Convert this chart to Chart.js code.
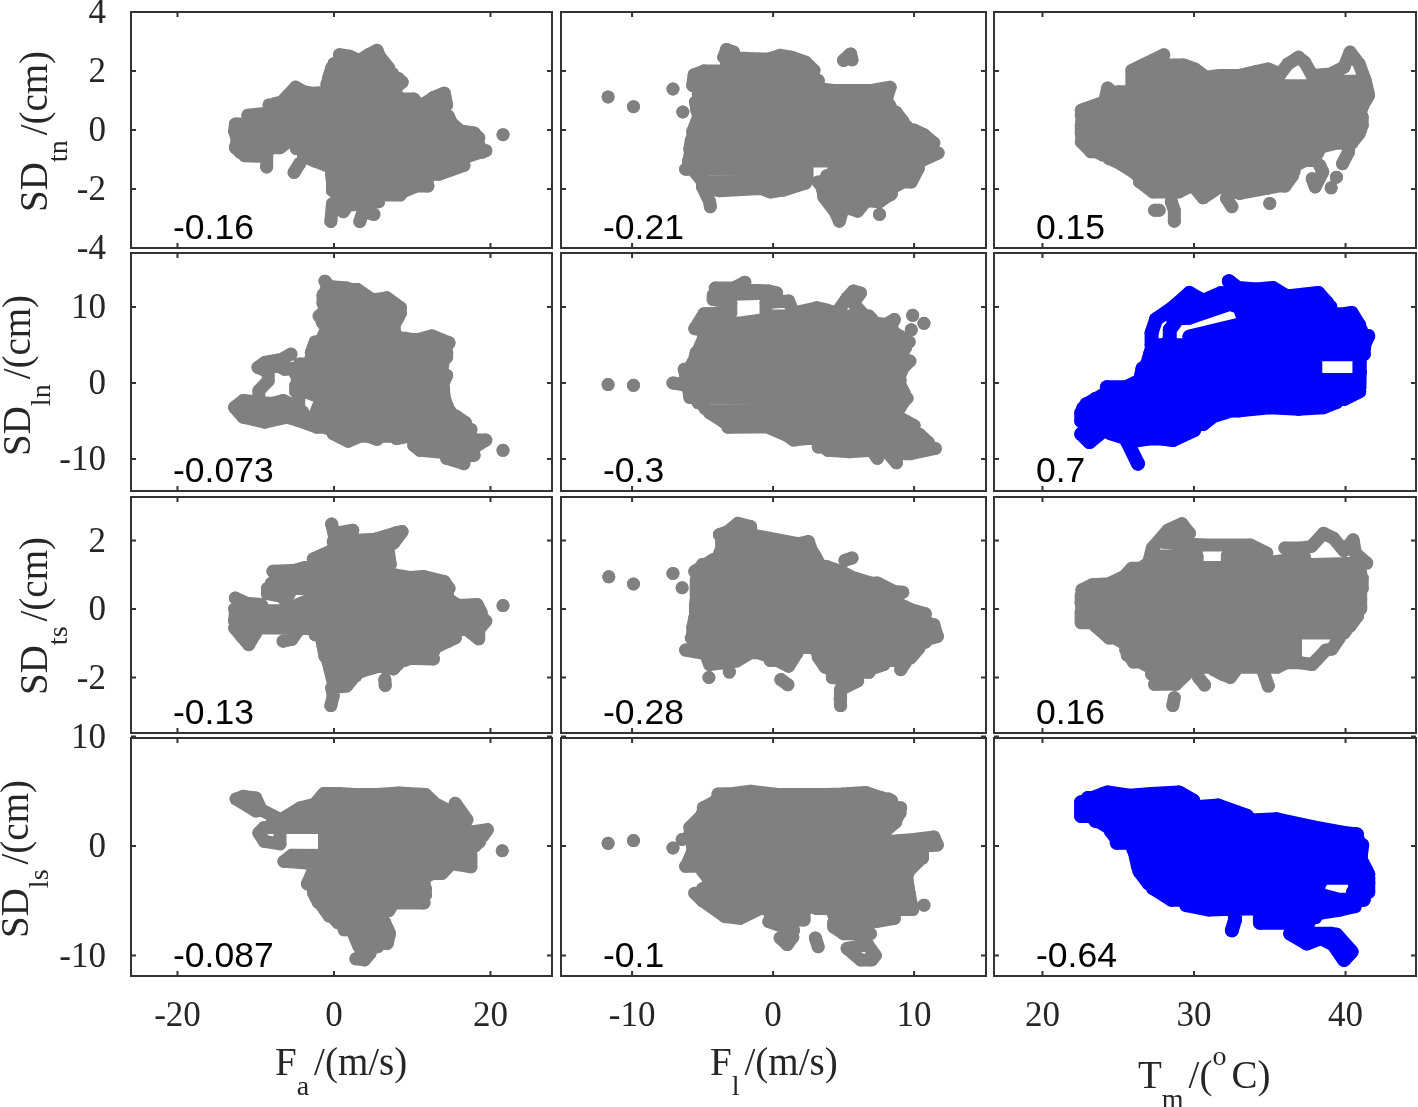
<!DOCTYPE html>
<html><head><meta charset="utf-8">
<style>html,body{margin:0;padding:0;background:#fff;overflow:hidden;width:1418px;height:1107px}canvas{position:absolute;display:block}</style>
<script src="https://cdn.jsdelivr.net/npm/chart.js@4"></script>
</head><body>
<script>
const G=[null,null]; // break in a connected trace
const fa_tn=[[0.7,2.55],[2,2.5],[3.2,2.35],[4.4,2.55],[5.5,2.7],[5.8,2.5],[7,2.1],[-0.3,2.1],[-0.7,1.75],[8.2,1.75],[8.7,1.62],[7.6,1.4],[-2.9,1.25],[-3.9,1.3],[-4.9,1.45],[-6.3,1.05],[10.2,1.05],[11,0.8],[12.7,1.1],[14.1,1.25],[14.4,0.85],[-8.3,0.85],[-7.5,0.6],[-11,0.5],[14.6,0.47],[15.1,0.2],[-12.6,0.2],[-12.7,-0.05],[16.6,-0.05],[17.9,-0.1],[18.5,-0.27],[-4.1,-0.35],[-4.8,-0.63],[19.4,-0.7],[17,-0.9],[-3.9,-0.9],[-0.5,-1.25],[16.6,-1.2],[13.4,-1.5],[-0.3,-1.5],[-0.2,-1.75],[11.9,-1.75],[8.7,-2.1],[-0.2,-2.05],[1.6,-2.35],[5.7,-2.43],[1.8,-2.55],[1.2,-2.77],[-0.2,-2.5],[-0.4,-3.1],G,[-4.4,-1.14],[-5.1,-1.44],G,[3.3,-3.1],[3.7,-2.77],[5.1,-2.86],G,[-12.4,-0.35],[-5.6,-0.35],[-6.9,-0.6],[-12.6,-0.6],[-11.4,-0.87],[-8.6,-0.9],[-8.6,-1.25],G,[21.6,-0.16],
G,[0,2.25],[5.5,2.25],[7.5,1.9],[-0.5,1.9],[-0.9,1.55],[7.8,1.55],[8,1.2],[-3,1.2],[-7.5,0.9],[10.5,0.9],[11,0.65],[-8,0.65],[-11,0.35],[14.5,0.35],[16,0],[-12.5,0],G,[-4.3,-0.5],[18.5,-0.5],[19,-0.75],[-4,-0.75],[-2.5,-1.05],[16.5,-1.05],[14,-1.35],[-0.3,-1.35],[-0.2,-1.6],[12,-1.9],[-0.2,-1.9],[0.5,-2.2],[8.5,-2.2],G,[-12.5,-0.2],[-6,-0.2],[-6.8,-0.5],[-12.5,-0.5],[-12,-0.75],[-8.5,-0.75]];
const fl_tn=[[-2.8,2.64],[-3.3,2.73],[-3.5,2.47],[-1,2.41],[-0.3,2.41],[0.5,2.53],[1.3,2.47],[2.3,2.3],[2.9,2.02],[-4.9,2],[-5.6,1.87],[-5.7,1.51],[3.2,1.68],[3.2,1.4],[4.3,1.34],[6,1.34],[7,1.34],[8.3,1.45],[8,1],[-5.5,0.95],[-5.4,0.65],[8.7,0.61],[9.2,0.3],[-5.4,0.3],[-5.7,-0.05],[10,0],[10.7,-0.16],[11.4,-0.44],[-5.8,-0.35],[-5.9,-0.65],[11.7,-0.78],[10.5,-1.05],[-6,-1.05],G,[-6.2,-1.33],[2.4,-1.35],[2.4,-1.6],[-5,-1.6],[-5,-1.93],[2.3,-1.8],[0.7,-2.04],[-0.2,-2.1],[-0.9,-1.98],[-3.8,-2.06],[-5,-1.93],[-4.5,-2.43],[-4.45,-2.6],G,[4.3,-1.35],[10.3,-1.3],[9.8,-1.76],[3.2,-1.76],[3.6,-2],[8.4,-2.15],[7.55,-2.43],[3.6,-2.27],[4.4,-2.77],[4.7,-3.09],[5,-2.6],[6,-2.75],[6.6,-2.4],G,[7.55,-2.86],G,[5,2.36],[5.5,2.58],[5.6,2.38],G,[-11.7,1.12],G,[-9.9,0.79],G,[-7.1,1.39],G,[-6.4,0.61],
G,[-3.3,2.2],[2.3,2.2],[2.8,2],[-4.9,2],[-5.3,1.7],[3,1.7],[3.2,1.45],[-5.3,1.45],[-5.3,1.2],[7.8,1.2],[8.3,0.8],[-5.4,0.8],[-5.3,0.45],[8.8,0.45],[9.5,0.1],[-5.5,0.1],[-5.7,-0.2],[10.7,-0.2],[11.2,-0.5],[-5.8,-0.5],[-5.9,-0.9],[10.8,-0.9],G,[-6,-1.2],[2.4,-1.2],[2.4,-1.45],[-5.5,-1.45],[-5,-1.75],[2.3,-1.75],G,[3.8,-1.55],[10,-1.55],[8.3,-2],[3.5,-2],[3.6,-2.2],[8.3,-2.2],[6.5,-2.45],[4.3,-2.45]];
const tm_tn=[[22.56,0.67],[24.1,0.95],[24.3,1.42],[24.9,1.17],[25.9,1.3],[25.9,2.02],[28,2.55],[27,2.15],[29.4,2.19],[30.05,2.07],[30.8,1.79],[31.7,1.85],[33,1.85],[34.1,1.98],[34.9,2.07],[35.7,1.9],[36.2,2.24],[36.9,2.47],[37.3,2.3],[37.8,1.85],[39,1.9],[39.9,2.13],[40.3,2.64],[40.9,2.24],[41.3,1.68],[41.5,1.23],[41.3,1.5],[25.9,1.5],[25.9,1.15],[41.5,1.15],[41.1,0.8],[24,0.8],[22.56,0.5],[41.1,0.45],[41.1,0.16],[22.56,0.16],[22.56,-0.12],[40.9,-0.12],[40.4,-0.45],[22.56,-0.4],[23.2,-0.74],[38.2,-0.74],[37.9,-1.03],[24.4,-0.97],[25,-1.1],[26,-1.42],[36.6,-1.4],[36,-1.75],[26.4,-1.75],[27.3,-2.1],[29,-2.1],[29.9,-1.87],[30.6,-2.3],[31.7,-1.93],[33,-2.15],[34.8,-1.98],[35.9,-1.87],G,[40.2,-0.5],[40.2,-0.74],[39.8,-1.14],G,[37.8,-1.65],[38,-1.93],[38.5,-1.42],[38.3,-1.2],G,[39.4,-1.6],G,[39.05,-1.96],G,[27.4,-2.72],[27.7,-2.72],G,[28.5,-2.43],[28.7,-2.72],[28.7,-3.09],G,[32.15,-2.32],[32.5,-2.6],G,[35,-2.49],
G,[27.2,2.2],[29.3,2.2],[30,1.85],[26,1.85],[26,1.65],[35.6,1.65],G,[38,1.65],[41.2,1.65],[41.4,1.3],[25,1.3],[24.5,1],[41.3,1],[41,0.65],[23,0.65],[22.6,0.3],[41,0.3],[41,0],[22.6,0],[22.6,-0.3],[40.5,-0.3],[38.2,-0.6],[23,-0.6],[24,-0.85],[38,-0.85],[36.7,-1.2],[25.5,-1.2],[26.3,-1.55],[36.5,-1.55],[36,-1.9],[27,-1.9]];
const fa_ln=[[-1.15,13.4],[-0.6,12.7],[1.6,12.5],[3.5,11.85],[-1.4,11.6],[-1.4,10.5],[4.6,10.8],[5.3,11],[6.75,11.2],[8.5,9.9],[-1,9.6],[-1.9,8.8],[8.2,8.6],[7.6,7.5],[-1.2,7.6],[-0.9,6.6],[7.8,6.4],[9.3,5.3],[12.5,6.2],[14.7,5.3],[-2.4,5.4],[-2.9,4],[14.4,4],[14.4,3.4],[13.4,2.5],[-4.4,2.5],[-4.9,1.2],[14.4,1],[13.8,-0.35],[-4.9,-0.35],[-4.9,-1.1],[14,-1.1],[14.2,-2.5],[-1.5,-2.5],[-2,-3.7],[14.8,-3.7],[15.6,-4.7],[-4.6,-4.9],[-2.2,-5.8],[16.8,-5.6],[17.2,-6.45],[-0.1,-6.65],[1.8,-7.65],[3.8,-6.8],[5.5,-7.4],[6.7,-6.5],[8,-7.3],[9.5,-7],[18.3,-7.5],[19.4,-7.5],[17.9,-8.5],[10.2,-8.2],[11,-8.85],[17.9,-9.5],[14.4,-9.9],[16.6,-10.6],G,[-5.5,3.8],[-6.7,3.1],[-8.85,2.7],[-9.7,2.05],[-7,2.2],[-6.3,1.8],[-4.4,2],G,[-9.7,2.05],[-8.4,1.5],[-8.4,0.3],[-9.6,-1],[-9.6,-1.9],G,[-4.5,-1.1],[-4.5,-3.2],[-6.5,-2.3],[-8,-2.7],[-11.6,-2.3],[-12.7,-3.2],[-11.6,-4.5],[-8.85,-5.15],[-6,-4.5],[-4.6,-4.9],[-4,-3.8],[-11,-3.8],G,[21.6,-8.85],
G,[-1,12.3],[3,12.3],[4.8,11],[-1.3,11],[-1.2,10.2],[8,10.2],[8.5,9.2],[-1.5,9.2],[-1.5,8],[7.7,8],[7.7,7],[-1,7],[-1.5,5.9],[9,5.9],[14.5,5],[-2.5,5],[-3,3],[14,3],[13.8,1.8],[-4.2,1.8],[-4.7,0.5],[13.8,0.5],[14,-0.7],[-4.7,-0.7],[-2,-1.8],[14,-1.8],[14.5,-3.1],[-2,-3.1],[-2.5,-4.3],[15.5,-4.3],[16.8,-5.2],[-3,-5.2],[-0.5,-6.1],[17.5,-6.1],[12,-7],[1,-7]];
const fl_ln=[[-4.1,12.5],[-2.8,12.5],[-2,13.25],[-2.3,12.3],[-0.3,12.1],[0.25,11.85],[-4.2,11.6],[-4.25,11],[-3,10.5],[-3,9.2],[-4.9,9.1],[-5.55,7.15],[-4.9,7.9],[-0.5,7.9],[-0.5,10.6],[1.1,10.8],[1.45,9.2],[3.1,9.9],[3.6,9.7],[4.5,9.2],[5.25,11.2],[5.7,12.1],[6.2,11.85],[5.7,10.5],[6.3,9.2],[7.15,7.9],[8,7.7],[8.6,8.35],[8.2,6.8],[-5,6.6],[-4.7,5.5],[9.65,5.4],[8.95,6.2],[9.05,4],[-5.45,4],[-5.6,2.9],[9.7,2.9],[9.05,1.7],[-6.3,1.8],[-6.1,0.4],[9,0.4],[8.95,-0.8],[-6,-0.8],[-5.9,-1.9],[9.5,-2],[8.8,-3.3],[-4.85,-3.3],[-3.8,-4.6],[9,-4.6],[10,-5.6],[-3.2,-5.8],[-0.9,-5.4],[1,-6.9],[1.45,-7.5],[2.4,-7.3],[10.35,-6.7],[11,-7.8],[3.2,-8],[3.9,-8.85],[5.4,-9.05],[7,-8.85],[11.5,-8.6],[9.75,-9.3],[8.2,-9.3],[8.75,-10.5],G,[7.4,-9.9],[7,-8.85],G,[-7.1,0],[-6.4,-0.2],G,[-11.7,-0.2],G,[-9.9,-0.3],G,[9.9,8.9],G,[10.7,7.85],G,[9.8,7],
G,[-0.4,8.8],[6.8,8.8],[7,8.4],[-0.4,8.4],[-5,7.2],[8.3,7.2],[9,6],[-4.9,6],[-5.2,4.7],[9.4,4.7],[9,3.4],[-5.5,3.4],[-5.8,2.3],[9.3,2.3],[9,1.1],[-6.2,1.1],[-6.2,-0.2],[9,-0.2],[9.3,-1.35],[-5.8,-1.35],[-5.3,-2.6],[9.2,-2.6],[8.8,-3.9],[-4.5,-3.9],[-3.5,-5.1],[9.5,-5.1],[10,-6.2],[1,-6.2],[2,-7.2],[10.5,-7.2],[11.2,-8.4],[3.2,-8.4]];
const tm_ln=[[32.3,13.4],[32.9,12.5],[34.1,12.3],[35.2,12.5],[36.1,11.4],[38.2,11.85],[38.8,10.5],[33.3,10.6],[31.8,11.85],[30.6,10.8],[29.7,11.85],[28.6,9.9],[31.8,10.8],[33,10],[33.3,9],[39.6,9],[40.4,9.2],[40.9,7.6],[33,7.7],[29.7,6.1],[41.5,6.2],[41.2,4.9],[27.2,5],[27.2,6.6],[27.5,8.4],[28.6,9.9],[29,8.6],[28.4,7],[28.4,5.5],[27.1,3.8],[41.2,3.8],[40.95,3.5],[40.95,1.4],[40.9,-0.6],[40.9,0.4],[38,0.4],[38,2.5],[26.9,2.5],[26.6,1.3],[38,1.3],[38,0.4],[26.4,0.3],[25.5,-0.55],[24.25,-0.55],[40.9,-0.6],[39.9,-1.6],[24,-1.6],[22.9,-2.8],[39.4,-2.5],[38.5,-3.2],[36.9,-3.4],[35,-3.2],[33,-3.6],[22.56,-3.9],[22.56,-5],[31.3,-4.3],[30.6,-5.4],[23,-5.8],[22.56,-6.7],[23.1,-7.75],[24.2,-6],[30,-6.2],[28.6,-7.5],[27.9,-7.3],[27,-7.3],[25.6,-7.75],[26.3,-10.6],
G,[28.6,8.5],[29.7,8.6],[32.5,10.5],[37.5,11],[39,10],[33,10],[33.3,8.3],[40.5,8.3],[41,7],[33.6,7],[29.7,5.6],[41.3,5.6],[41.2,4.4],[27.2,4.4],[27,3.1],[38,3.1],[38,1.9],[26.6,1.9],[26.5,0.9],[38,0.9],G,[24.3,-1.1],[40.9,-1.1],[39.9,-2.1],[23.5,-2.1],[22.7,-3.3],[33,-3.3],[31,-4.5],[22.6,-4.5],[24,-5.4],[30,-5.4],[29.5,-6.6],[24.5,-6.6],[25.6,-7.3],[28,-7.3]];
const fa_ts=[[-0.3,2.48],[0,2.2],[2.4,2.3],[1.5,2],[-0.1,1.97],[5.25,2.04],[8,2.23],[8.7,2.26],[7.6,1.92],[-0.3,1.7],[-2.65,1.46],[7,1.45],[7,1.15],[-2.2,1.15],[-7.8,1.1],[-6.3,1.1],[-4.1,0.95],[8.4,0.9],[11.45,0.95],[14.1,0.8],[14.7,0.6],[-8.5,0.6],[-8.5,0.45],[-6.7,0.37],[-5.5,0.05],[-2.8,0.3],[14.5,0.3],[15.9,0.1],[18.3,0.13],[18.8,-0.1],[-12.6,-0.1],[-12.7,-0.35],[19.4,-0.35],[18.5,-0.6],[18.5,-0.87],[17,-0.6],[-12.7,-0.55],[-11.8,-0.8],[-10.9,-1.04],[-10,-0.7],G,[-6.5,-0.94],[-5.4,-0.89],[-4.5,-0.6],G,[-2.4,-0.75],[15.5,-0.84],[13.2,-1.09],[-1.4,-1.09],[-1.15,-1.38],[12.7,-1.46],[11.45,-1.38],[9.3,-1.33],[8.2,-1.6],[7.6,-1.75],[5.7,-1.67],[3.5,-1.82],[-0.5,-1.77],[-0.2,-2.05],[2.5,-2],[1.6,-2.25],[-0.3,-2.3],[-0.1,-2.54],[-0.4,-2.82],G,[-12.6,0.32],[-11.2,0.17],[-9.3,0.13],[-9,0],[-12.7,0],G,[6.5,-2.06],[6.55,-2.23],G,[21.6,0.1],
G,[-0.2,1.75],[6.9,1.75],[7.2,1.3],[-2.4,1.3],[-7,1],[7.6,1],[14,0.75],[-8,0.75],G,[-8.5,0.45],[-5.7,0.45],G,[-2.8,0.45],[14.5,0.45],[14.6,0.15],[-2.8,0.15],G,[-12,-0.05],[18,-0.05],[19,-0.25],[-12.5,-0.25],[-12.5,-0.5],[18.5,-0.5],G,[-2.4,-0.75],[15.5,-0.75],[14.5,-0.95],[-1.5,-0.95],[-1.2,-1.25],[12.7,-1.25],[9,-1.5],[-0.8,-1.5],[-0.3,-1.95],[2.8,-1.95]];
const fl_ts=[[-3.8,2.17],[-3.2,2.26],[-2.5,2.5],[-1.6,2.41],[-1.5,2.02],[-3.65,2],[-3.65,1.7],[0,1.87],[1.45,1.87],[2.5,1.97],[2.75,1.68],[3.05,1.49],[-4.25,1.44],[-5.55,1.1],[3.8,1.24],[4.8,1.1],[5.75,0.9],[-5.45,0.85],[-5.45,0.55],[7.4,0.76],[8.6,0.51],[9.2,0.49],[-5.45,0.3],[-5.5,0],[8.8,0.17],[9.8,-0.02],[10.8,-0.14],[-5.55,-0.25],[-5.7,-0.55],[11.4,-0.46],[11.65,-0.8],[10.9,-0.89],[-5.8,-0.85],[-5.3,-1.1],[10.35,-1.14],[9.75,-1.43],[3.2,-1.4],[3.7,-1.7],[7.85,-1.62],[6.8,-1.77],[4.2,-2],[6,-2.1],[4.8,-2.35],[4.75,-2.62],[4.8,-2.82],G,[-6.2,-1.2],[-5.1,-1.28],[1.7,-1.28],[1.1,-1.67],[-0.3,-1.38],[-1.4,-1.23],[-2.6,-1.52],[-4.5,-1.62],[-4.8,-1.3],G,[9.05,-1.77],[9.4,-1.55],G,[-11.65,0.94],G,[-9.9,0.73],G,[-7.1,1.04],G,[-6.45,0.62],G,[-4.55,-2],G,[-3.1,-1.84],G,[0.55,-2.06],[1.05,-2.21],G,[5.1,1.42],[5.6,1.49],
G,[-3.8,2.17],[-1.6,2.17],[2.5,1.85],[-3.6,1.85],[-3.8,1.6],[2.9,1.6],[3.3,1.3],[-5,1.3],[-5.4,1],[5,1],[7.4,0.7],[-5.45,0.7],[-5.45,0.42],[8.8,0.42],[8.8,0.15],[-5.5,0.15],[-5.5,-0.1],[10,-0.1],[11,-0.4],[-5.6,-0.4],[-5.7,-0.7],[11.4,-0.7],[10.8,-0.97],[-5.5,-0.97],G,[-5.5,-1.25],[1.7,-1.25],G,[-0.2,-1.5],[1,-1.5],G,[-4.5,-1.5],[-2.7,-1.5],G,[3.1,-1.25],[10,-1.25],[9,-1.5],[3.5,-1.5],[4.2,-1.85],[6.8,-1.85]];
const tm_ts=[[22.6,0.56],[23.3,0.71],[24.4,0.74],[25.4,0.95],[25.9,1.19],[26.9,1.19],[27.25,1.78],[28.3,2.31],[29.2,2.49],[29.7,2.21],[28,1.95],[30.6,1.87],[33.7,1.87],[34.8,1.63],[32.2,1.55],[32.2,1.2],[37.3,1.5],[36,1.78],[37.1,1.78],[37.75,1.83],[38.55,2.21],[39.2,2.07],[39.9,1.7],[40.5,2.02],[40.65,1.63],[41.4,1.34],[25.9,1.15],[25.2,0.85],[41.1,0.9],[41.1,0.6],[22.6,0.4],[22.55,0.17],[41,0.27],[41,0],[22.55,-0.1],[22.55,-0.4],[40.5,-0.35],[39.9,-0.7],[24.2,-0.7],[25.4,-1],[36.7,-1.05],[36.7,-1.35],[25.6,-1.35],[27.1,-1.7],[35.5,-1.7],[36.1,-1.57],[37,-1.57],[37.8,-1.62],[38.1,-1.48],[38.7,-1.2],[39.1,-1.17],[39.6,-0.84],G,[27.2,-1.9],[29.5,-1.9],[28.8,-2.2],[27.4,-2.2],G,[31.3,-1.77],[31.9,-1.91],[32.4,-2],[32.9,-1.7],G,[34.6,-1.86],[34.9,-2.25],G,[28.7,-2.59],[28.6,-2.82],G,[30.3,-2],[30.7,-2.22],
G,[27.2,1.55],[30.2,1.55],[30.2,1.3],[27,1.35],[26,1.05],[41,1.05],[41,0.75],[24.5,0.75],[22.7,0.5],[41,0.5],[41,0.05],[22.6,0.05],[22.6,-0.2],[40.8,-0.2],[40.3,-0.5],[23.5,-0.5],[24.4,-0.85],[36.7,-0.85],[36.7,-1.2],[25.5,-1.2],[26,-1.55],[36,-1.55]];
const fa_ls=[[-12.5,4.3],[-11.6,4.54],[-10,4.4],[-9.3,3.3],[-6.8,2.4],[-4.3,3.5],[-2.5,3.8],[-1.3,4.8],[0.7,4.8],[2.6,4.7],[5.5,4.7],[8.3,4.85],[11.7,4.7],[12.6,4.1],[-1.5,4],[-3,3.2],[15.2,3.2],[15.5,3.9],[17,2.4],[-3.5,2.4],[-1.6,1.7],[16.8,1.7],[-8.9,1.7],[-9.6,1.2],[-8.9,0.43],[-6.9,0.2],[-6.9,1.5],G,[-1.2,1.5],[15.5,1.5],[17.5,1.3],[19.6,1.5],[19,0.9],[-1.2,0.7],[-1.2,0],[15,0],[18.6,0.4],[18,0],[-1.2,-0.3],[17.4,-0.8],[17.5,-1.9],[15.8,-1.7],[15,-0.9],[-5.4,-0.85],[-6.4,-1.4],[-2.7,-1.6],[15,-1.6],[13.8,-2.5],[-2.7,-2.3],[-3.4,-3.45],[11.5,-3.3],[11.7,-4.45],[-2.6,-4.3],[-2,-5.15],[11.5,-5.2],[7.6,-5.2],[7,-5.9],[-1.2,-5.8],[-0.6,-6.4],[6.2,-6.7],[1.3,-7.65],[6.8,-7.5],[7.1,-8],[6.8,-8.9],[3.2,-8.6],[4.6,-9.8],[3.9,-10.4],[2.8,-10.3],G,[-12.5,4.3],[-10,3.2],[-9.3,3.3],G,[21.5,-0.43],
G,[-1,4.2],[12,4.2],[15.8,2.8],[-3.4,2.8],[-8,2],[16.5,2],G,[-1.2,1],[18,1],[18,0.3],[-1.2,0.3],[-1.2,-0.6],[17,-0.6],[15,-1.2],[-2.5,-1.2],[-2.6,-2],[14,-2],[11.5,-2.9],[-3,-2.9],[-2.7,-3.9],[11.7,-3.9],[11.5,-4.7],[-2.3,-4.7],[-1.5,-5.5],[7,-5.5],[6.3,-6.1],[-0.7,-6.1],[0.5,-7],[6.5,-7],[7,-8],[2.5,-8],[3.2,-9.2],[5.6,-9.2]];
const fl_ls=[[-3.9,4.75],[-2.8,4.8],[-1.6,5],[-0.9,4.9],[0.5,4.7],[2.4,4.7],[3.8,4.7],[4.9,4.75],[6.55,4.9],[7.6,4.45],[8.4,4.15],[-4.2,4],[-4.95,3.5],[9.05,3.5],[8.8,2.6],[-5.2,2.6],[-5.9,1.7],[8,1.7],[7.6,1.4],[7.7,0.8],[-5.8,0.8],[-5.7,-0.1],[8,0],[8.4,0.45],[10,0.6],[11.4,0.83],[11.65,0.1],[10,-0.1],[10.6,-0.3],[10.6,-1.1],[-5.7,-1],[-6.2,-1.85],[9.75,-1.85],[9.5,-2.7],[-4.7,-2.7],[-4.5,-3.5],[9.5,-3.5],[9.65,-4.3],[-5.55,-4.3],[-5,-5],[9.75,-5],[9.9,-5.8],[3.1,-5.7],[2.3,-5.4],[-0.9,-5.7],[-2.35,-6.6],[-3.4,-6.45],[-5,-5],[-4,-5.8],[-1,-5.7],G,[4.3,-5.8],[4.3,-6.3],[8.6,-6.6],[7.3,-6.9],[4.3,-7],[4.3,-7.4],[5,-8],[6.9,-8],[6.2,-8.4],[6.7,-9],[5.25,-9.35],[6.2,-10.4],[7,-10.4],[7.25,-10],[6.7,-9],G,[-0.3,-6],[2.2,-6],[2.2,-6.75],[1.45,-6.75],[-0.3,-6.9],[1.45,-7.7],[0.5,-8.4],[1,-9],[1.4,-8.3],G,[-11.7,0.25],G,[-9.9,0.5],G,[-7.1,-0.18],G,[-6.45,0.6],G,[10.7,-5.4],G,[3,-8.4],[3.2,-9.2],
G,[-4,4.3],[8.2,4.3],[9,3],[-5,3],[-5.3,2.2],[8.7,2.2],[7.8,1.2],[-5.9,1.2],[-5.8,0.4],[7.7,0.4],[10.5,-0.5],[-5.7,-0.5],[-6,-1.4],[10.3,-1.4],[9.6,-2.3],[-5,-2.3],[-4.5,-3.1],[9.5,-3.1],[9.6,-3.9],[-5,-3.9],[-5,-4.6],[9.7,-4.6],G,[-4,-5.4],[1,-5.4],G,[3.5,-5.4],[9.8,-5.4]];
const tm_ls=[[22.55,4],[24,4.75],[24.3,4.9],[25.75,4.6],[27.2,4.75],[29,4.9],[29.95,4.15],[22.55,3.6],[22.55,2.75],[31.6,3.7],[33.5,2.75],[23.3,2.6],[24.4,1.7],[35.45,2.45],[37.9,1.7],[39.9,1.2],[40.75,1.07],[24.9,0.9],[24.9,0.3],[41.1,0.1],[41,-1],[26.1,-0.6],[26.3,-1.85],[41,-1.9],[41.5,-2.6],[26.9,-2.9],[41.5,-2.9],[41.5,-4.2],[40.5,-4.2],[41.2,-4.9],[38,-4.9],[38.2,-3.9],[27.3,-3.85],[28.5,-4.9],[38,-4.9],[29.5,-5.4],[31,-5.8],[33.15,-5.7],[40.6,-5.5],[39.65,-5.8],[38.3,-6.1],[34.35,-6.3],[34.35,-7],[37.55,-7],[36.35,-8],[37.45,-8.9],[38.4,-8.4],[37.6,-8],[39,-8],[39.4,-8.1],[40.4,-9.65],[39.9,-10.4],[39.2,-9],[38.4,-8.4],G,[32.7,-5.8],[32.7,-6.75],[32.5,-7.7],
G,[23,4.4],[28.8,4.4],[29.8,4],[23,4],[22.6,3.2],[31.4,3.2],[33.2,2.3],[23.5,2.3],[24.5,2],[36,2],[38,1.4],[24.5,1.4],[24.9,0.65],[40.8,0.65],[41,-0.3],[26,-0.3],[26.3,-1.2],[41,-1.2],[41.4,-2.3],[26.4,-2.3],[27,-3.4],[38.3,-3.4],G,[40.6,-3.4],[41.5,-3.4],G,[28,-4.4],[38.2,-4.4],[40.6,-5.3],[29.5,-5.3],G,[34.5,-6.5],[38,-6.5]];

const xTicks=[[-20,0,20],[-10,0,10],[20,30,40]];
const yTicks=[[4,2,0,-2,-4],[10,0,-10],[2,0,-2],[10,0,-10]];
const xLimits=[[-25.94,27.86],[-15.04,15.1],[16.8,44.65]];
const yLimits=[[-4,4],[-14.2,17.1],[-3.62,3.27],[-11.87,9.87]];
const series=[[fa_tn,fl_tn,tm_tn],[fa_ln,fl_ln,tm_ln],[fa_ts,fl_ts,tm_ts],[fa_ls,fl_ls,tm_ls]];
const correlations=[['-0.16','-0.21','0.15'],['-0.073','-0.3','0.7'],['-0.13','-0.28','0.16'],['-0.087','-0.1','-0.64']];
const highlighted=[[0,0,0],[0,0,1],[0,0,0],[0,0,1]];
// rich axis titles: [text, kind] where kind 0 = normal, 1 = subscript, 2 = superscript
const xTitles=[[['F',0],['a',1],['/(m/s)',0]],[['F',0],['l',1],['/(m/s)',0]],[['T',0],['m',1],['/(',0],['o',2],['C)',0]]];
const yTitles=[[['SD',0],['tn',1],['/(cm)',0]],[['SD',0],['ln',1],['/(cm)',0]],[['SD',0],['ts',1],['/(cm)',0]],[['SD',0],['ls',1],['/(cm)',0]]];

const colRects=[[131,552],[561,986],[994,1416]];
const rowRects=[[12,248],[253,491],[497,733],[738,976]];
const xTitleAt=[[275,1075],[710,1075],[1138,1088]];
const yTitleAt=[[47,212],[30,456],[47,695],[28,938]];
const TICK='#262626', FRAME='#333333', SERIF='"Liberation Serif","Times New Roman",serif';

function drawRuns(ctx,runs,x,y,vertical){
  ctx.save();ctx.translate(x,y);if(vertical)ctx.rotate(-Math.PI/2);
  ctx.fillStyle=TICK;ctx.textAlign='left';ctx.textBaseline='alphabetic';
  let cx=0;
  for(const [t,k] of runs){
    ctx.font=(k?28:39)+'px '+SERIF;
    const dy=k===1?20:k===2?-23:0;
    ctx.fillText(t,cx,dy);
    cx+=ctx.measureText(t).width+(k===1?5:k===2?5:0);
  }
  ctx.restore();
}
rowRects.forEach((rr,r)=>colRects.forEach((cr,c)=>{
  const M=8;
  const L=c===0?cr[0]:M, R=M, T=r===0?rr[0]:(c===0?18:M), B=r===3?1107-rr[1]:(c===0?18:M);
  const left=cr[0]-L, top=rr[0]-T, w=cr[1]-cr[0]+L+R, h=rr[1]-rr[0]+T+B;
  const cv=document.createElement('canvas');
  cv.width=w;cv.height=h;cv.style.left=left+'px';cv.style.top=top+'px';cv.style.width=w+'px';cv.style.height=h+'px';
  document.body.appendChild(cv);
  const col=highlighted[r][c]?'#0000ff':'#808080', rad=highlighted[r][c]?7:6.5;
  const framePlugin={id:'frame',afterDatasetsDraw(ch){
    const a=ch.chartArea,g=ch.ctx,xs=ch.scales.x,ys=ch.scales.y;
    g.save();g.strokeStyle=FRAME;g.lineWidth=2;g.beginPath();
    xTicks[c].forEach(v=>{const p=xs.getPixelForValue(v);g.moveTo(p,a.top);g.lineTo(p,a.top+5);g.moveTo(p,a.bottom);g.lineTo(p,a.bottom-5);});
    yTicks[r].forEach(v=>{const p=ys.getPixelForValue(v);if(p<a.top-2)return;g.moveTo(a.left,p);g.lineTo(a.left+5,p);g.moveTo(a.right,p);g.lineTo(a.right-5,p);});
    g.stroke();g.strokeRect(a.left,a.top,a.right-a.left,a.bottom-a.top);
    g.fillStyle='#000';g.font='35.5px "Liberation Sans",Arial,sans-serif';g.textAlign='left';g.textBaseline='alphabetic';
    g.fillText(correlations[r][c],a.left+42,a.bottom-9);
    g.restore();
    if(c===0)drawRuns(g,yTitles[r],yTitleAt[r][0]-left,yTitleAt[r][1]-top,true);
    if(r===3)drawRuns(g,xTitles[c],xTitleAt[c][0]-left,xTitleAt[c][1]-top,false);
  }};
  new Chart(cv,{type:'scatter',
    data:{datasets:[{data:series[r][c],showLine:true,spanGaps:false,tension:0,
      borderColor:col,backgroundColor:col,borderWidth:rad*2,borderJoinStyle:'round',borderCapStyle:'round',
      pointRadius:rad,pointHoverRadius:rad,pointBorderWidth:0,pointBackgroundColor:col}]},
    options:{responsive:false,animation:false,devicePixelRatio:1,
      layout:{padding:{top:T,right:R,left:0,bottom:0}},
      plugins:{legend:{display:false},tooltip:{enabled:false},title:{display:false}},
      scales:{
        x:{type:'linear',min:xLimits[c][0],max:xLimits[c][1],
          grid:{display:false},border:{display:false},
          afterBuildTicks(s){s.ticks=xTicks[c].map(v=>({value:v}));},
          afterFit(s){s.height=B;s.paddingLeft=s.paddingRight=s.paddingTop=s.paddingBottom=0;},
          ticks:{display:r===3,autoSkip:false,maxRotation:0,padding:12,color:TICK,font:{family:SERIF,size:35},callback:v=>String(v)}},
        y:{type:'linear',min:yLimits[r][0],max:yLimits[r][1],
          grid:{display:false},border:{display:false},
          afterBuildTicks(s){s.ticks=yTicks[r].map(v=>({value:v}));},
          afterFit(s){s.width=L;s.paddingLeft=s.paddingRight=s.paddingTop=s.paddingBottom=0;},
          ticks:{display:c===0,autoSkip:false,padding:17,labelOffset:2,color:TICK,font:{family:SERIF,size:35},callback:v=>String(v)}}
      }},
    plugins:[framePlugin]});
}));
</script>
</body></html>
